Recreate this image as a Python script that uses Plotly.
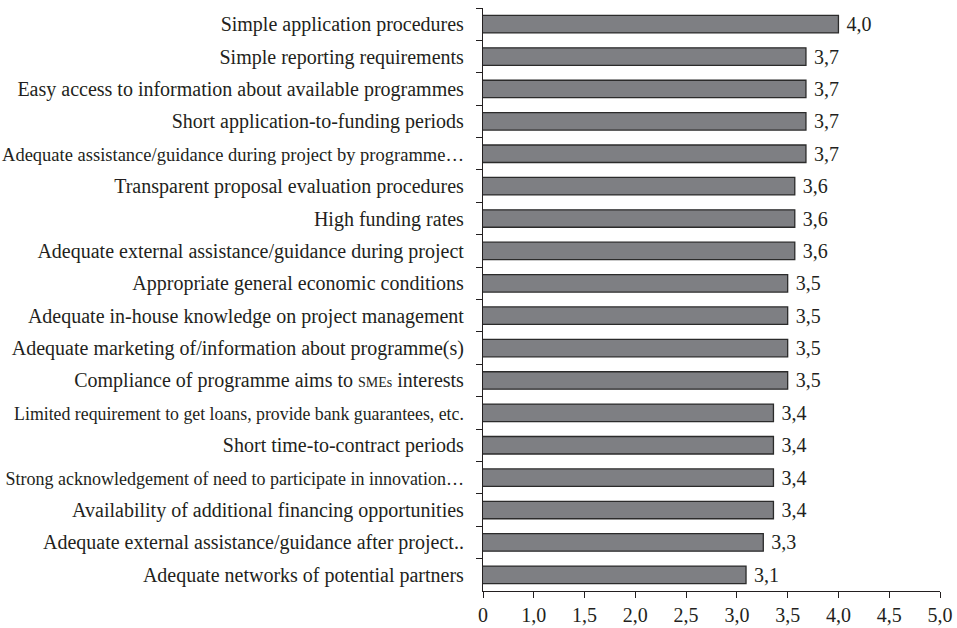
import plotly.graph_objects as go

categories = [
    "Simple application procedures",
    "Simple reporting requirements",
    "Easy access to information about available programmes",
    "Short application-to-funding periods",
    "<span style='font-size:18.5px'>Adequate assistance/guidance during project by programme…</span>",
    "Transparent proposal evaluation procedures",
    "High funding rates",
    "Adequate external assistance/guidance during project",
    "Appropriate general economic conditions",
    "Adequate in-house knowledge on project management",
    "Adequate marketing of/information about programme(s)",
    "Compliance of programme aims to <span style='font-size:14px'>SMEs</span> interests",
    "<span style='font-size:17.8px'>Limited requirement to get loans, provide bank guarantees, etc.</span>",
    "Short time-to-contract periods",
    "<span style='font-size:18px'>Strong acknowledgement of need to participate in innovation…</span>",
    "Availability of additional financing opportunities",
    "Adequate external assistance/guidance after project..",
    "Adequate networks of potential partners",
]
values = [4.0, 3.68, 3.68, 3.68, 3.68, 3.57, 3.57, 3.57, 3.5, 3.5, 3.5, 3.5,
          3.36, 3.36, 3.36, 3.36, 3.26, 3.09]
labels = ["\u00a0" + f"{v:.1f}".replace(".", ",") for v in values]
tick_vals = [0.5, 1.0, 1.5, 2.0, 2.5, 3.0, 3.5, 4.0, 4.5, 5.0]
tick_text = ["0", "1,0", "1,5", "2,0", "2,5", "3,0", "3,5", "4,0", "4,5", "5,0"]

FONT = "Liberation Serif"
INK = "#231f20"

fig = go.Figure(go.Bar(
    x=values, y=categories, orientation="h",
    marker=dict(color="#7e7f83", line=dict(color="#2b2b2b", width=1.3)),
    text=labels, textposition="outside", cliponaxis=False,
    constraintext="none",
    textfont=dict(family=FONT, size=20, color=INK),
))

fig.update_layout(
    width=957, height=628,
    margin=dict(l=483, r=17, t=8, b=37, autoexpand=False),
    paper_bgcolor="white", plot_bgcolor="white",
    bargap=0.46, showlegend=False,
    font=dict(family=FONT, size=20, color=INK),
)
fig.update_xaxes(
    range=[0.5, 5.0], tickvals=tick_vals, ticktext=tick_text,
    showgrid=False, zeroline=False, automargin=False,
    showline=True, linecolor=INK, linewidth=1.2,
    ticks="outside", ticklen=6, tickcolor=INK, tickwidth=1.2,
    tickfont=dict(family=FONT, size=20, color=INK),
)
fig.update_yaxes(
    autorange="reversed", tickson="boundaries",
    showgrid=False, zeroline=False, automargin=False,
    showline=True, linecolor=INK, linewidth=1.2,
    ticks="outside", ticklen=6, tickcolor=INK, tickwidth=1.2,
    ticklabelstandoff=14,
    tickfont=dict(family=FONT, size=20, color=INK),
)

fig.write_html(
    "out.html",
    config={"displayModeBar": False},
    post_script="document.body.style.margin='0';document.body.style.padding='0';",
)
